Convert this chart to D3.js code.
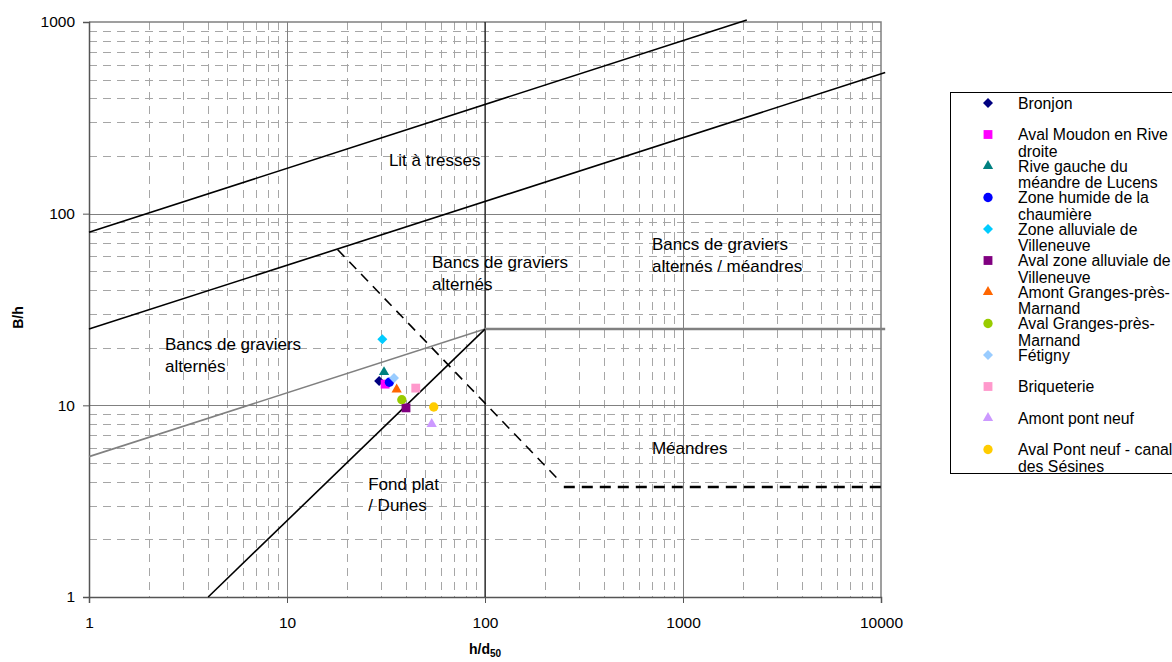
<!DOCTYPE html>
<html>
<head>
<meta charset="utf-8">
<script src="https://cdn.jsdelivr.net/npm/d3@7"></script>
<style>
  html, body { margin: 0; padding: 0; background: #fff; }
  svg { display: block; font-family: "Liberation Sans", Arial, sans-serif; }
</style>
</head>
<body>
<svg id="chart" width="1172" height="662"></svg>
<script>
// ------- data -------
const sites = [
  "Bronjon", "Aval Moudon en Rive droite", "Rive gauche du méandre de Lucens",
  "Zone humide de la chaumière", "Zone alluviale de Villeneuve", "Aval zone alluviale de Villeneuve",
  "Amont Granges-près-Marnand", "Aval Granges-près-Marnand", "Fétigny",
  "Briqueterie", "Amont pont neuf", "Aval Pont neuf - canal des Sésines"
];
const legendLines = [
  ["Bronjon"], ["Aval Moudon en Rive", "droite"], ["Rive gauche du", "méandre de Lucens"],
  ["Zone humide de la", "chaumière"], ["Zone alluviale de", "Villeneuve"], ["Aval zone alluviale de", "Villeneuve"],
  ["Amont Granges-près-", "Marnand"], ["Aval Granges-près-", "Marnand"], ["Fétigny"],
  ["Briqueterie"], ["Amont pont neuf"], ["Aval Pont neuf - canal", "des Sésines"]
];
const hd50 = [29.2, 31.3, 30.9, 32.9, 30.3, 39.9, 35.8, 38.0, 34.7, 44.7, 53.8, 55.1];
const Bh   = [13.4, 12.9, 14.9, 13.2, 22.1, 9.7, 12.1, 10.7, 13.9, 12.3, 8.0, 9.8];
const colors = ["#000080", "#FF00FF", "#008080", "#0000FF", "#00CCFF", "#800080",
                "#FF6600", "#99CC00", "#99CCFF", "#FF99CC", "#CC99FF", "#FFCC00"];
const shapes = ["diamond", "square", "triangle", "circle", "diamond", "square",
                "triangle", "circle", "diamond", "square", "triangle", "circle"];

// boundary lines (h/d50, B/h)
const tressesUpper = [[1, 80], [2100, 1025]];
const tressesLower = [[1, 25], [10500, 545]];
const alternesSlope = [[1, 5.4], [100, 25]];
const alternesFlat = [[100, 25], [10500, 25]];
const fondPlat = [[4, 1], [100, 25]];
const meandresDiag = [[18, 65], [240, 4.0]];
const meandresFlat = [[250, 3.75], [10000, 3.75]];
const vertical100 = [[100, 1], [100, 1000]];

const xTicks = [1, 10, 100, 1000, 10000];
const yTicks = [1, 10, 100, 1000];

// region labels, anchored at (h/d50, B/h) of the first line's baseline
const regionLabels = [
  { lines: ["Lit à tresses"], x: 32.7, y: 177 },
  { lines: ["Bancs de graviers", "alternés"], x: 54, y: 52 },
  { lines: ["Bancs de graviers", "alternés / méandres"], x: 697, y: 64.6 },
  { lines: ["Bancs de graviers", "alternés"], x: 2.42, y: 19.4 },
  { lines: ["Méandres"], x: 697, y: 5.57 },
  { lines: ["Fond plat", "/ Dunes"], x: 25.7, y: 3.62 }
];

// ------- chart -------
const svg = d3.select("#chart");
const pLeft = 89, pRight = 881, pTop = 22, pBottom = 597;

const x = d3.scaleLog().domain([1, 10000]).range([pLeft, pRight]);
const y = d3.scaleLog().domain([1, 1000]).range([pBottom, pTop]);

const minorX = [], minorY = [];
[1, 10, 100, 1000].forEach(d => { for (let k = 2; k <= 9; k++) minorX.push(d * k); });
[1, 10, 100].forEach(d => { for (let k = 2; k <= 9; k++) minorY.push(d * k); });

const grid = svg.append("g");
grid.selectAll(".mx").data(minorX).enter().append("line")
  .attr("x1", d => Math.round(x(d)) + 0.5).attr("x2", d => Math.round(x(d)) + 0.5)
  .attr("y1", pTop).attr("y2", pBottom)
  .attr("stroke", "#a6a6a6").attr("stroke-dasharray", "8,6");
grid.selectAll(".my").data(minorY).enter().append("line")
  .attr("y1", d => Math.round(y(d)) + 0.5).attr("y2", d => Math.round(y(d)) + 0.5)
  .attr("x1", pLeft).attr("x2", pRight)
  .attr("stroke", "#a6a6a6").attr("stroke-dasharray", "8,6");
grid.selectAll(".Mx").data(xTicks.slice(1, -1)).enter().append("line")
  .attr("x1", d => Math.round(x(d)) + 0.5).attr("x2", d => Math.round(x(d)) + 0.5)
  .attr("y1", pTop).attr("y2", pBottom).attr("stroke", "#808080");
grid.selectAll(".My").data(yTicks.slice(1, -1)).enter().append("line")
  .attr("y1", d => Math.round(y(d)) + 0.5).attr("y2", d => Math.round(y(d)) + 0.5)
  .attr("x1", pLeft).attr("x2", pRight).attr("stroke", "#808080");

// plot border
svg.append("path")
  .attr("d", `M${pLeft},${pTop}H${pRight}V${pBottom}`)
  .attr("fill", "none").attr("stroke", "#808080").attr("stroke-width", 1.5);

// axes
const xAxis = svg.append("g").attr("transform", `translate(0,${pBottom})`)
  .call(d3.axisBottom(x).tickValues(xTicks).tickFormat(d3.format("d")).tickSize(6).tickPadding(14));
const yAxis = svg.append("g").attr("transform", `translate(${pLeft},0)`)
  .call(d3.axisLeft(y).tickValues(yTicks).tickFormat(d3.format("d")).tickSize(6).tickPadding(8));
[xAxis, yAxis].forEach(a => {
  a.select(".domain").attr("stroke", "#555").attr("stroke-width", 1.5);
  a.selectAll(".tick line").attr("stroke", "#555");
  a.selectAll("text").attr("fill", "#000")
    .style("font-family", '"Liberation Sans", Arial, sans-serif').style("font-size", "15.5px");
});

// boundary lines
const line = d3.line().x(d => x(d[0])).y(d => y(d[1]));
const drawLine = (data, stroke, width, dash) => {
  svg.append("path").datum(data).attr("d", line)
    .attr("fill", "none").attr("stroke", stroke).attr("stroke-width", width)
    .attr("stroke-dasharray", dash || null);
};
drawLine(vertical100, "#000", 1);
drawLine(tressesUpper, "#000", 1.6);
drawLine(tressesLower, "#000", 1.6);
drawLine(alternesSlope, "#808080", 1.6);
drawLine(alternesFlat, "#808080", 2.6);
drawLine(fondPlat, "#000", 1.6);
drawLine(meandresDiag, "#000", 1.6, "10,7");
drawLine(meandresFlat, "#000", 2.6, "11,7");

// region labels
regionLabels.forEach(r => {
  const t = svg.append("text")
    .attr("x", x(r.x)).attr("y", y(r.y))
    .style("font-size", "17px").attr("fill", "#000");
  r.lines.forEach((s, i) => {
    t.append("tspan").attr("x", x(r.x)).attr("dy", i === 0 ? 0 : 21.5).text(s);
  });
});

// markers
const symbolPath = (shape) => {
  if (shape === "square") return d3.symbol(d3.symbolSquare, 78)();
  if (shape === "circle") return d3.symbol(d3.symbolCircle, 68)();
  if (shape === "triangle") return d3.symbol(d3.symbolTriangle, 46)();
  return d3.symbol(d3.symbolSquare, 50)();
};
const rot = (shape) => shape === "diamond" ? " rotate(45)" : "";

const pts = sites.map((s, i) => ({ site: s, hd: hd50[i], bh: Bh[i], color: colors[i], shape: shapes[i] }));
svg.append("g").selectAll("path").data(pts).enter().append("path")
  .attr("d", d => symbolPath(d.shape))
  .attr("transform", d => `translate(${x(d.hd)},${y(d.bh)})${rot(d.shape)}`)
  .attr("fill", d => d.color);

// axis titles
svg.append("text")
  .attr("transform", `translate(23,${(pTop + pBottom) / 2 + 8}) rotate(-90)`)
  .attr("text-anchor", "middle")
  .style("font-size", "14px").style("font-weight", "bold")
  .text("B/h");
const xt = svg.append("text")
  .attr("x", x(100)).attr("y", 654)
  .attr("text-anchor", "middle")
  .style("font-size", "14px").style("font-weight", "bold");
xt.append("tspan").text("h/d");
xt.append("tspan").attr("dy", 3).style("font-size", "10px").text("50");

// legend
const lg = svg.append("g");
lg.append("rect")
  .attr("x", 950.5).attr("y", 92.5).attr("width", 240).attr("height", 381)
  .attr("fill", "#fff").attr("stroke", "#000");
const rowY = i => 103 + i * 31.5;
pts.forEach((d, i) => {
  lg.append("path")
    .attr("d", symbolPath(d.shape))
    .attr("transform", `translate(988,${rowY(i)})${rot(d.shape)}`)
    .attr("fill", d.color);
  const t = lg.append("text").attr("x", 1018).attr("y", rowY(i) + 5.5)
    .style("font-size", "15.8px").attr("fill", "#000");
  legendLines[i].forEach((s, j) => {
    t.append("tspan").attr("x", 1018).attr("dy", j === 0 ? 0 : 16.5).text(s);
  });
});
</script>
</body>
</html>
